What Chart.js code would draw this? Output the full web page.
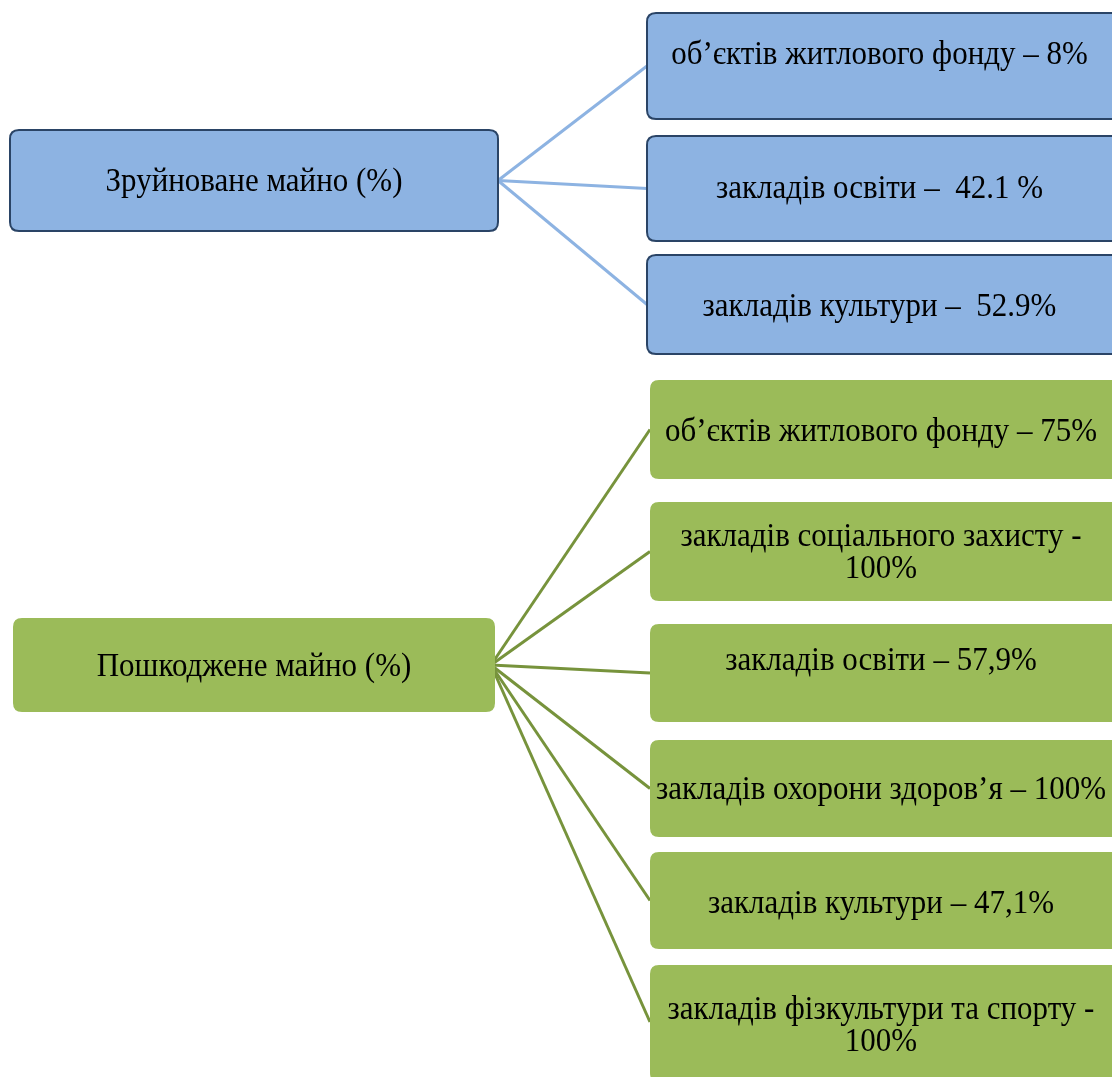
<!DOCTYPE html>
<html>
<head>
<meta charset="utf-8">
<script src="https://cdn.jsdelivr.net/npm/chart.js@4.4.0/dist/chart.umd.min.js"></script>
<style>
  body { margin: 0; background: #fff; }
  #wrap { width: 1112px; height: 1077px; overflow: hidden; }
</style>
</head>
<body>
<div id="wrap"><canvas id="chart" width="1112" height="1077"></canvas></div>
<script>
// group titles
var groupTitles = ['Зруйноване майно (%)', 'Пошкоджене майно (%)'];

// destroyed property
var destroyedCategories = ['об’єктів житлового фонду', 'закладів освіти', 'закладів культури'];
var destroyedValues = [8, 42.1, 52.9];
var destroyedLabels = ['об’єктів житлового фонду – 8%', 'закладів освіти –  42.1 %', 'закладів культури –  52.9%'];

// damaged property
var damagedCategories = ['об’єктів житлового фонду', 'закладів соціального захисту', 'закладів освіти',
    'закладів охорони здоров’я', 'закладів культури', 'закладів фізкультури та спорту'];
var damagedValues = [75, 100, 57.9, 100, 47.1, 100];
var damagedLabels = ['об’єктів житлового фонду – 75%', 'закладів соціального захисту - 100%', 'закладів освіти – 57,9%',
    'закладів охорони здоров’я – 100%', 'закладів культури – 47,1%', 'закладів фізкультури та спорту - 100%'];

// layout (in scale units = pixels)
var groups = [
    {
        parent: { x0: 10, x1: 498, y0: 130, y1: 231 },
        anchorX: 498,
        childX: [647, 1140],
        childY: [[13, 119], [136, 241], [255, 354]],
        textY: [53, 187, 305],
        labels: destroyedLabels,
        fill: '#8db3e2', border: '#2a4466', line: '#8db3e2'
    },
    {
        parent: { x0: 13, x1: 495, y0: 618, y1: 712 },
        anchorX: 491,
        childX: [650, 1140],
        childY: [[380, 479], [502, 601], [624, 722], [740, 837], [852, 949], [965, 1082]],
        textY: [430, 551, 659, 788, 902, 1024],
        labels: damagedLabels,
        fill: '#9bbb59', border: null, line: '#77933c'
    }
];

let connectorDatasets = function () {
    var sets = [];
    groups.forEach(function (g) {
        var py = (g.parent.y0 + g.parent.y1) / 2;
        g.childY.forEach(function (cy, i) {
            var ty = Math.min((cy[0] + cy[1]) / 2, 1022);
            sets.push({
                data: [{ x: g.anchorX, y: py }, { x: g.childX[0], y: ty }],
                showLine: true,
                borderColor: g.line,
                borderWidth: 3,
                pointRadius: 0
            });
        });
    });
    return sets;
}

let roundRect = function (ctx, x, y, w, h, r) {
    ctx.beginPath();
    ctx.moveTo(x + r, y);
    ctx.lineTo(x + w - r, y);
    ctx.quadraticCurveTo(x + w, y, x + w, y + r);
    ctx.lineTo(x + w, y + h - r);
    ctx.quadraticCurveTo(x + w, y + h, x + w - r, y + h);
    ctx.lineTo(x + r, y + h);
    ctx.quadraticCurveTo(x, y + h, x, y + h - r);
    ctx.lineTo(x, y + r);
    ctx.quadraticCurveTo(x, y, x + r, y);
    ctx.closePath();
}

let wrapText = function (ctx, text, maxW) {
    var words = text.split(' ');
    var lines = [];
    var cur = '';
    words.forEach(function (w) {
        var test = cur ? cur + ' ' + w : w;
        if (ctx.measureText(test).width > maxW && cur) {
            lines.push(cur);
            cur = w;
        } else {
            cur = test;
        }
    });
    lines.push(cur);
    return lines;
}

var boxPlugin = {
    id: 'boxes',
    afterDatasetsDraw: function (chart) {
        var ctx = chart.ctx;
        var xs = chart.scales.x;
        var ys = chart.scales.y;
        var font = '31px "Liberation Serif", "Times New Roman", serif';
        var stretch = 1.08; // glyphs in the original are a bit taller than wide

        let drawBox = function (r, g, lines, cy) {
            var x0 = xs.getPixelForValue(r.x0), x1 = xs.getPixelForValue(r.x1);
            var y0 = ys.getPixelForValue(r.y0), y1 = ys.getPixelForValue(r.y1);
            roundRect(ctx, x0, y0, x1 - x0, y1 - y0, 9);
            ctx.fillStyle = g.fill;
            ctx.fill();
            if (g.border) {
                ctx.lineWidth = 2;
                ctx.strokeStyle = g.border;
                ctx.stroke();
            }
            ctx.fillStyle = '#000';
            ctx.font = font;
            ctx.textAlign = 'center';
            ctx.textBaseline = 'middle';
            var tx = (x0 + Math.min(x1, 1112)) / 2;
            var lh = 32;
            var startY = ys.getPixelForValue(cy) + 2 - (lines.length - 1) * lh / 2;
            lines.forEach(function (l, i) {
                var ly = startY + i * lh;
                ctx.save();
                ctx.translate(tx, ly);
                ctx.scale(1, stretch);
                ctx.fillText(l, 0, 0);
                ctx.restore();
            });
        }

        ctx.save();
        groups.forEach(function (g, gi) {
            var p = g.parent;
            drawBox(p, g, [groupTitles[gi]], (p.y0 + p.y1) / 2);
            g.childY.forEach(function (cy, i) {
                ctx.font = font;
                var lines = wrapText(ctx, g.labels[i], 462);
                drawBox({ x0: g.childX[0], x1: g.childX[1], y0: cy[0], y1: cy[1] }, g, lines, g.textY[i]);
            });
        });
        ctx.restore();
    }
};

new Chart(document.getElementById('chart'), {
    type: 'scatter',
    data: { datasets: connectorDatasets() },
    options: {
        responsive: false,
        animation: false,
        layout: { padding: 0 },
        plugins: { legend: { display: false }, tooltip: { enabled: false } },
        scales: {
            x: { type: 'linear', min: 0, max: 1112, display: false },
            y: { type: 'linear', min: 0, max: 1077, reverse: true, display: false }
        }
    },
    plugins: [boxPlugin]
});
</script>
</body>
</html>
